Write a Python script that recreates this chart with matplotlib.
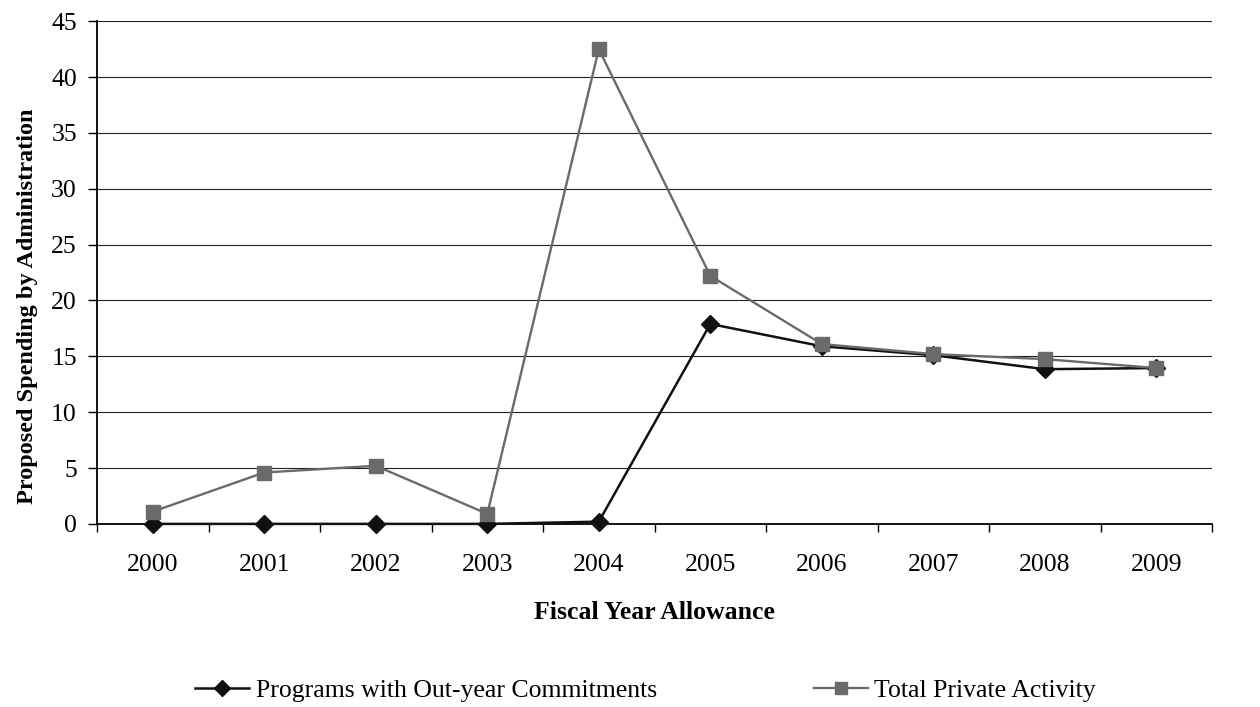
import matplotlib.pyplot as plt

plt.rcParams['font.family'] = ['Liberation Serif', 'DejaVu Serif']

# Fiscal years and proposed spending series
years = ['2000', '2001', '2002', '2003', '2004', '2005', '2006', '2007', '2008', '2009']
out_year = [0.0, 0.0, 0.0, 0.0, 0.2, 17.9, 15.9, 15.1, 13.85, 13.95]
private_total = [1.1, 4.6, 5.2, 0.9, 42.5, 22.2, 16.1, 15.2, 14.75, 13.95]

FS = 18.5

fig = plt.figure(figsize=(12.6, 7.07), dpi=100)
ax = fig.add_axes([0.077, 0.259, 0.885, 0.711])

x = list(range(len(years)))
ax.plot(x, out_year, color='#111111', lw=1.8, marker='D', ms=9,
        markerfacecolor='#111111', markeredgecolor='#111111',
        label='Programs with Out-year Commitments', zorder=5, clip_on=False)
ax.plot(x, private_total, color='#6a6a6a', lw=1.7, marker='s', ms=10,
        markerfacecolor='#6a6a6a', markeredgecolor='#6a6a6a',
        label='Total Private Activity', zorder=6, clip_on=False)

ax.set_xlim(-0.5, len(years) - 0.5)
ax.set_ylim(0, 45)
ax.set_yticks(range(0, 46, 5))
ax.set_xticks(x)
ax.set_xticklabels(years)
# category separators as minor ticks
ax.set_xticks([i - 0.5 for i in range(len(years) + 1)], minor=True)
ax.tick_params(axis='x', which='major', length=0, pad=22, labelsize=FS)
ax.tick_params(axis='x', which='minor', length=6, width=1, direction='out')
ax.tick_params(axis='y', length=6.5, width=1, direction='out', labelsize=FS, pad=8)

ax.grid(axis='y', color='#222222', lw=0.8)
ax.set_axisbelow(True)
for side in ['top', 'right']:
    ax.spines[side].set_visible(False)
ax.spines['left'].set_linewidth(1.3)
ax.spines['bottom'].set_linewidth(1.3)

ax.set_xlabel('Fiscal Year Allowance', fontsize=FS, fontweight='bold', labelpad=18)
ax.set_ylabel('Proposed Spending by Administration', fontsize=17.5, fontweight='bold')
ax.yaxis.set_label_coords(-0.053, 0.433)

fig.legend(loc='center left', bbox_to_anchor=(0.155, 0.024),
           ncol=2, frameon=False, fontsize=FS, columnspacing=6.1,
           handlelength=2.1, handletextpad=0.25, markerscale=0.9,
           borderpad=0, borderaxespad=0)

fig.savefig('out.png', dpi=100)
